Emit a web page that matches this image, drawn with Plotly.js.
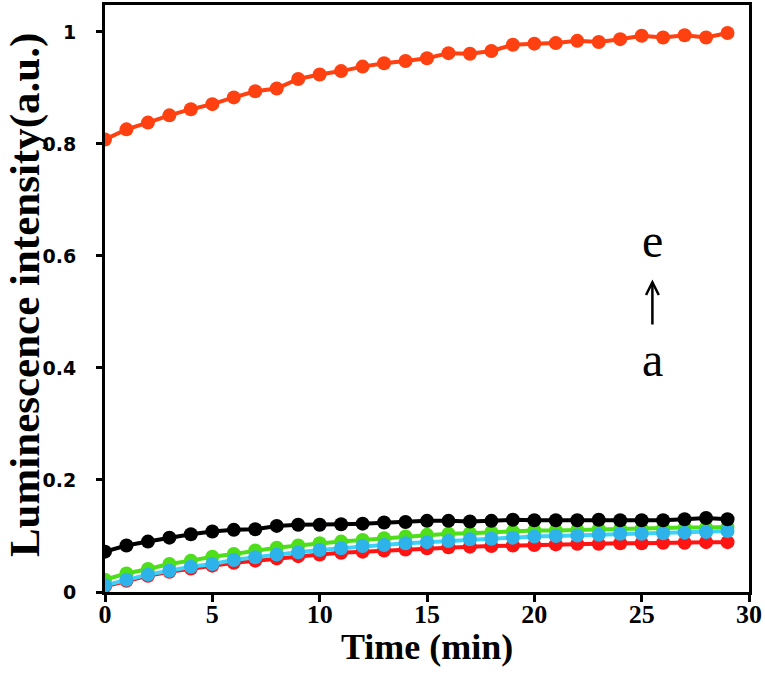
<!DOCTYPE html>
<html>
<head>
<meta charset="utf-8">
<script src="https://cdn.plot.ly/plotly-3.0.1.min.js"></script>
<style>html,body{margin:0;padding:0;background:#fff;}#chart{width:765px;height:675px;}</style>
</head>
<body>
<div id="chart"></div>
<script>
const timeMin = [0,1,2,3,4,5,6,7,8,9,10,11,12,13,14,15,16,17,18,19,20,21,22,23,24,25,26,27,28,29];
const seriesA_red   = [0.010,0.020,0.029,0.036,0.042,0.047,0.052,0.056,0.060,0.064,0.067,0.070,0.072,0.074,0.076,0.078,0.080,0.081,0.082,0.083,0.084,0.085,0.086,0.086,0.087,0.087,0.088,0.088,0.089,0.089];
const seriesB_green = [0.022,0.033,0.041,0.050,0.056,0.063,0.068,0.074,0.079,0.083,0.087,0.090,0.093,0.096,0.099,0.102,0.104,0.105,0.107,0.108,0.110,0.110,0.111,0.112,0.113,0.113,0.114,0.115,0.115,0.116];
const seriesC_blue  = [0.012,0.022,0.031,0.038,0.045,0.050,0.057,0.062,0.067,0.071,0.075,0.078,0.082,0.084,0.087,0.089,0.091,0.094,0.095,0.097,0.099,0.100,0.101,0.102,0.104,0.104,0.105,0.106,0.107,0.109];
const seriesD_black = [0.072,0.083,0.090,0.097,0.103,0.108,0.111,0.112,0.118,0.120,0.120,0.121,0.122,0.124,0.125,0.127,0.127,0.126,0.127,0.129,0.128,0.128,0.128,0.129,0.128,0.128,0.128,0.130,0.132,0.130];
const seriesE_orange= [0.808,0.826,0.838,0.851,0.862,0.871,0.883,0.894,0.899,0.916,0.924,0.930,0.938,0.944,0.948,0.953,0.962,0.961,0.966,0.977,0.979,0.980,0.984,0.982,0.987,0.993,0.990,0.994,0.990,0.998];
const xTickVals = [0,5,10,15,20,25,30];
const yTickVals = [0,0.2,0.4,0.6,0.8,1];
const yTickText = ['0','0.2','0.4','0.6','0.8','1'];
const xTitle = 'Time (min)';
const yTitle = 'Luminescence intensity(a.u.)';
const labelTop = 'e';
const labelBottom = 'a';

function tr(y, color, lineColor) {
  return {x: timeMin, y: y, type: 'scatter', mode: 'lines+markers',
    line: {color: lineColor || color, width: 4},
    marker: {color: color, size: 14, line: {width: 0}},
    showlegend: false, hoverinfo: 'skip'};
}
const data = [
  tr(seriesA_red, '#ff1414'),
  tr(seriesB_green, '#4ede1a'),
  tr(seriesC_blue, '#2db2ea', '#3ed2f6'),
  tr(seriesD_black, '#000000'),
  tr(seriesE_orange, '#ff4010')
];
const serif = 'Liberation Serif, Times New Roman, serif';
const layout = {
  width: 765, height: 675,
  margin: {l: 105, r: 16, t: 5, b: 83},
  paper_bgcolor: '#fff', plot_bgcolor: '#fff',
  xaxis: {range: [0, 30], tickvals: xTickVals, ticks: 'outside', ticklen: 7, tickwidth: 3, tickcolor: '#000',
    showline: true, linewidth: 3, linecolor: '#000', mirror: true, showgrid: false, zeroline: false,
    ticklabelstandoff: -10,
    tickfont: {family: serif, size: 26, color: '#000', weight: 'bold'}},
  yaxis: {range: [0, 1.048], tickvals: yTickVals, ticktext: yTickText, ticks: 'outside', ticklen: 6, tickwidth: 3, tickcolor: '#000',
    showline: true, linewidth: 3, linecolor: '#000', mirror: true, showgrid: false, zeroline: false,
    ticklabelstandoff: 16,
    tickfont: {family: 'DejaVu Sans, Verdana, sans-serif', size: 19, color: '#000', weight: 'bold'}},
  annotations: [
    {x: 0.5, y: -0.093, xref: 'paper', yref: 'paper', xanchor: 'center', yanchor: 'middle', text: '<b>' + xTitle + '</b>',
     showarrow: false, font: {family: serif, size: 36, color: '#000'}},
    {x: -0.124, y: 0.506, xref: 'paper', yref: 'paper', xanchor: 'center', yanchor: 'middle', textangle: -90, text: '<b>' + yTitle + '</b>',
     showarrow: false, font: {family: serif, size: 43, color: '#000'}},
    {x: 25.5, y: 0.628, xref: 'x', yref: 'y', text: labelTop, showarrow: false, font: {family: serif, size: 48, color: '#000'}},
    {x: 25.5, y: 0.558, xref: 'x', yref: 'y', ax: 25.5, ay: 0.475, axref: 'x', ayref: 'y', text: '',
     showarrow: true, arrowhead: 5, arrowsize: 1, arrowwidth: 2.5, arrowcolor: '#000', standoff: 0, startstandoff: 0},
    {x: 25.5, y: 0.415, xref: 'x', yref: 'y', text: labelBottom, showarrow: false, font: {family: serif, size: 48, color: '#000'}}
  ]
};
Plotly.newPlot('chart', data, layout, {displayModeBar: false, staticPlot: true});
</script>
</body>
</html>
